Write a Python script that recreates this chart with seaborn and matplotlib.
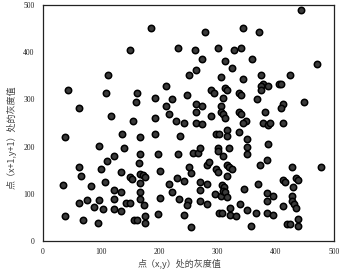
import matplotlib
matplotlib.use('Agg')
import matplotlib.pyplot as plt
import seaborn as sns
import pandas as pd

# gray value at (x, y) and at (x+1, y+1)
x_gray = [43, 62, 112, 108, 116, 150, 155, 159, 162, 38, 135, 166, 97, 139, 122, 110, 166, 62, 100, 134,
          66, 107, 149, 153, 165, 167, 34, 83, 166, 122, 134, 166, 166, 122, 62, 76, 97, 142, 149, 87,
          103, 122, 134, 38, 69, 95, 157, 161,
          185, 193, 212, 212, 216, 193, 222, 228, 243, 263, 274, 232, 262, 301, 328, 340, 278, 274, 313, 324,
          263, 251, 305, 247, 289, 294, 313, 317, 336, 340, 309, 263, 274, 305, 263, 305, 309, 336, 340, 289,
          313, 193, 235, 297, 302, 317, 317, 336, 197, 232, 257, 266, 269, 301, 301, 320, 309, 201, 251, 254,
          281, 286, 297, 301, 316, 320, 324, 316, 172, 176, 216, 231, 243, 269, 281, 269, 222, 201, 234, 249,
          247, 269, 281, 296, 305, 308, 311, 309, 313, 317, 174, 197, 242, 176, 176, 255, 303, 308, 322, 322,
          332, 339,
          444, 344, 371, 359, 471, 375, 425, 344, 378, 374, 386, 374, 405, 409, 367, 448, 413, 409, 382, 348,
          344, 378, 386, 390, 413, 351, 351, 351, 386, 373, 385, 427, 478, 412, 416, 435, 439, 430, 346, 369,
          385, 385, 396, 427, 427, 431, 435, 350, 366, 385, 396, 412, 439, 438, 420, 424, 358]
y_gray = [319, 281, 352, 314, 264, 405, 255, 295, 314, 221, 226, 221, 201, 196, 180, 170, 185, 157, 152, 147,
          138, 126, 136, 131, 165, 143, 119, 117, 122, 108, 103, 103, 89, 90, 81, 86, 86, 81, 81, 71,
          67, 67, 63, 52, 44, 39, 44, 44,
          452, 304, 328, 285, 269, 260, 300, 255, 251, 251, 247, 409, 405, 409, 405, 409, 442, 386, 381, 367,
          362, 352, 347, 309, 319, 314, 324, 319, 314, 309, 304, 290, 286, 286, 274, 274, 269, 274, 269, 264,
          260, 226, 222, 226, 226, 235, 222, 231, 185, 185, 186, 186, 196, 196, 190, 196, 181, 148, 157, 144,
          162, 167, 152, 147, 162, 157, 152, 138, 140, 136, 120, 133, 127, 124, 120, 108, 104, 91, 89, 85,
          77, 84, 79, 99, 95, 119, 114, 106, 103, 94, 76, 57, 55, 53, 39, 29, 60, 60, 69, 56,
          52, 79,
          490, 452, 442, 386, 376, 352, 352, 343, 333, 328, 328, 319, 333, 333, 300, 295, 290, 281, 274, 255,
          250, 250, 245, 250, 250, 216, 200, 185, 205, 162, 172, 157, 157, 130, 125, 134, 130, 114, 110, 120,
          101, 84, 95, 95, 84, 79, 69, 65, 60, 60, 56, 74, 46, 31, 36, 36, 31]

x_ticks = [0, 100, 200, 300, 400, 500]
y_ticks = [0, 100, 200, 300, 400, 500]
x_label = '点（x,y）处的灰度值'
y_label = '点（x+1,y+1）处的灰度值'

df = pd.DataFrame({'x': x_gray, 'y': y_gray})

sns.set_style('white')
plt.rcParams['font.family'] = ['Liberation Serif', 'Noto Sans CJK SC', 'DejaVu Sans']

fig = plt.figure(figsize=(3.44, 2.72), dpi=100)
ax = fig.add_axes([43 / 344, 1 - 241 / 272, 291 / 344, 236 / 272])

sns.scatterplot(data=df, x='x', y='y', ax=ax, s=21, color='#3a3a3a',
                edgecolor='black', linewidth=1.1, legend=False)

ax.set_xlim(0, 500)
ax.set_ylim(0, 500)
ax.set_xticks(x_ticks)
ax.set_yticks(y_ticks)
ax.tick_params(axis='both', direction='in', length=3, width=0.8, labelsize=5.5,
               colors='#222222', top=False, right=False, pad=6)
ax.tick_params(axis='x', pad=5)
for s in ax.spines.values():
    s.set_color('#222222')
    s.set_linewidth(0.9)

ax.set_xlabel(x_label, fontsize=6.5, color='#444444', family=['Noto Sans CJK SC', 'DejaVu Sans'])
ax.set_ylabel(y_label, fontsize=6.5, color='#444444', family=['Noto Sans CJK SC', 'DejaVu Sans'])
ax.xaxis.set_label_coords(0.47, -0.075)
ax.yaxis.set_label_coords(-0.09, 0.44)

fig.savefig('out.png', dpi=100)
